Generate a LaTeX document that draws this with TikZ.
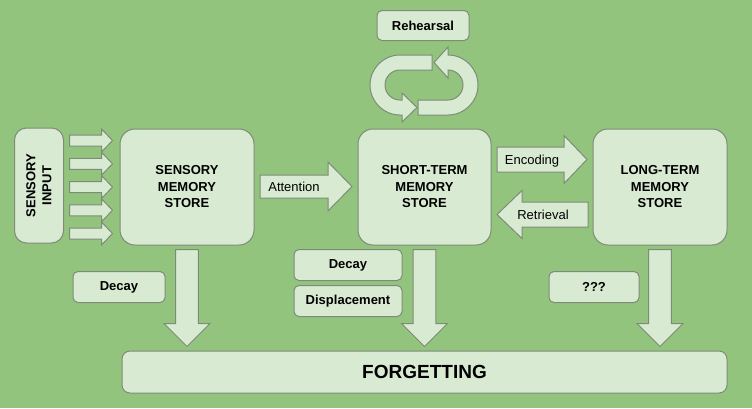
\documentclass[tikz,border=0pt]{standalone}
\usepackage{fontspec}
\setmainfont{Liberation Sans}
\usetikzlibrary{arrows.meta}

\definecolor{bggreen}{HTML}{93C47D}
\definecolor{boxfill}{HTML}{D9EAD3}
\definecolor{boxline}{HTML}{7D8B78}

\tikzset{
  box/.style={draw=boxline, fill=boxfill, line width=1pt, align=center, inner sep=0pt,
    font=\fontsize{13}{16.5}\selectfont\bfseries},
  bigbox/.style={box, rounded corners=15pt, minimum width=134pt, minimum height=116pt},
  tag/.style={box, rounded corners=5pt},
  blk/.style={draw=boxline, fill=boxfill, line width=1pt, line join=miter},
  lbl/.style={font=\fontsize{13}{16}\selectfont, inner sep=0pt}
}

\begin{document}
\begin{tikzpicture}[x=1pt, y=-1pt]
    % background
    \fill[bggreen] (0,0) rectangle (752,408);
    \useasboundingbox (0,0) rectangle (752,408);

    % Stores
    \node[bigbox] (sms) at (187,187) {SENSORY\\MEMORY\\STORE};
    \node[bigbox, minimum width=133pt] (stm) at (424.5,187) {SHORT-TERM\\MEMORY\\STORE};
    \node[bigbox] (ltm) at (660,187) {LONG-TERM\\MEMORY\\STORE};
    \node[bigbox, rotate=90, rounded corners=12pt, minimum width=115pt, minimum height=49pt,
      font=\fontsize{13}{16}\selectfont\bfseries] (input) at (39,185.5) {SENSORY\\INPUT};

    % Small labels
    \node[tag, minimum width=92pt, minimum height=30pt] (rehearse) at (423,25.5) {Rehearsal};
    \node[tag, minimum width=92pt, minimum height=31pt] (decaysm) at (119,287) {Decay};
    \node[tag, minimum width=108pt, minimum height=31pt] (decaystm) at (348,265) {Decay};
    \node[tag, minimum width=108pt, minimum height=31pt] (displace) at (348,301) {Displacement};
    \node[tag, minimum width=90pt, minimum height=31pt] (unknown) at (594,287) {???};
    \node[tag, minimum width=605pt, minimum height=42pt, rounded corners=8pt,
      font=\fontsize{19}{22}\selectfont\bfseries] (forget) at (424.5,372) {FORGETTING};

    % Sensory input arrows
    \foreach \dy in {-46.5,-23.25,0,23.25,46.5}
      \draw[blk, shift={(sms.west)}] (-50,\dy-5.5) -- (-18,\dy-5.5) -- (-18,\dy-11.5) -- (-7,\dy)
        -- (-18,\dy+11.5) -- (-18,\dy+5.5) -- (-50,\dy+5.5) -- cycle;

    % Attention, encoding, retrieval
    \draw[blk] (260,175) -- (328,175) -- (328,162) -- (352,186.5) -- (328,211) -- (328,198) -- (260,198) -- cycle;
    \draw[blk] (497,147) -- (564,147) -- (564,135.5) -- (587,159.5) -- (564,183.5) -- (564,172) -- (497,172) -- cycle;
    \draw[blk] (588,202) -- (522,202) -- (522,190.5) -- (497,214.5) -- (522,238.5) -- (522,227) -- (588,227) -- cycle;
    \node[lbl, anchor=base] (attn) at (294,191) {Attention};
    \node[lbl, anchor=base] (enc) at (532,164) {Encoding};
    \node[lbl, anchor=base] (retr) at (543,219) {Retrieval};

    % Rehearsal loop
    \draw[blk] (432,55) -- (400,55) arc[start angle=270, end angle=90, radius=30] -- (402,115) -- (402,122)
      -- (417,107.5) -- (402,93) -- (402,100) -- (400,100) arc[start angle=90, end angle=270, radius=15]
      -- (432,70) -- cycle;
    \draw[blk] (418,100) -- (448,100) arc[start angle=90, end angle=-90, radius=15] -- (448,78) -- (434,62.5)
      -- (448,47) -- (448,55) arc[start angle=-90, end angle=90, radius=30] -- (418,115) -- cycle;

    % Down to forgetting
    \foreach \n in {sms,stm,ltm}
      \draw[blk, shift={(\n.south)}] (-11.3,4) -- (-11.3,78) -- (-23,78) -- (0,101) -- (23,78)
        -- (11.3,78) -- (11.3,4) -- cycle;
\end{tikzpicture}
\end{document}
